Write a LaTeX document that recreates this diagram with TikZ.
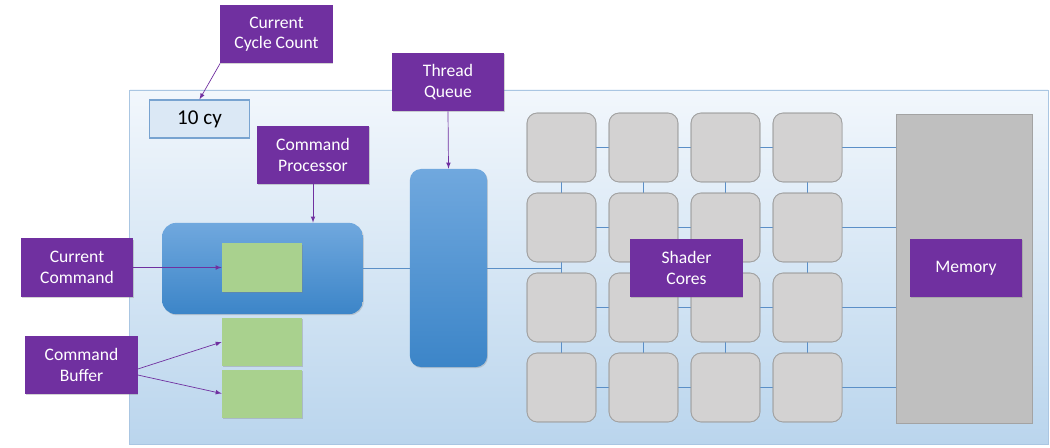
\documentclass[tikz,border=0pt]{standalone}
\usepackage{fontspec}
\setmainfont{Carlito}
\usepackage{tikz}
\usetikzlibrary{positioning, arrows, shadows}
\usepackage{xcolor}

\definecolor{labelpurple}{HTML}{7030A0}
\definecolor{wirecol}{HTML}{5B8FC7}
\definecolor{greenbox}{HTML}{A9D18E}
\definecolor{corefill}{HTML}{D3D2D2}
\definecolor{coreline}{HTML}{A3A3A3}
\definecolor{memfill}{HTML}{BFBFBF}

\begin{document}
\begin{tikzpicture}[x=0.025cm, y=-0.025cm, >=latex,
    label/.style={fill=labelpurple, text=white, minimum width=2.8cm, minimum height=1.45cm,
        inner sep=0pt, align=center, font=\fontsize{12.5}{14.5}\selectfont,
        drop shadow={opacity=0.35, shadow xshift=0.6pt, shadow yshift=-0.8pt}},
    bluebox/.style={rounded corners=0.35cm, draw=none,
        top color={rgb,255:red,112;green,168;blue,222}, bottom color={rgb,255:red,60;green,133;blue,200},
        drop shadow={opacity=0.3, shadow xshift=0.6pt, shadow yshift=-0.8pt}},
    cmdbox/.style={fill=greenbox, minimum width=2cm, minimum height=1.2cm, inner sep=0pt,
        drop shadow={opacity=0.35, shadow xshift=0.6pt, shadow yshift=-0.8pt}},
    core/.style={fill=corefill, draw=coreline, line width=0.6pt, rounded corners=0.25cm,
        minimum width=1.72cm, minimum height=1.72cm, inner sep=0pt},
    wire/.style={draw=wirecol, line width=0.6pt},
    pointer/.style={->, draw=labelpurple, line width=0.5pt}]

    \useasboundingbox (0,0) rectangle (1050,447);

    % gpu panel
    \node[draw={rgb,255:red,170;green,198;blue,226}, line width=0.6pt,
          top color={rgb,255:red,242;green,247;blue,252}, bottom color={rgb,255:red,186;green,213;blue,237},
          minimum width=22.95cm, minimum height=8.85cm, inner sep=0pt] (gpu) at (589,267) {};

    % cycle counter
    \node[fill={rgb,255:red,219;green,232;blue,245}, draw={rgb,255:red,120;green,163;blue,208}, line width=0.8pt,
          minimum width=2.5cm, minimum height=0.95cm, inner sep=0pt, font=\fontsize{15}{18}\selectfont,
          drop shadow={opacity=0.3, shadow xshift=0.6pt, shadow yshift=-0.8pt}] (cy) at (199.5,119) {10 cy};

    % command processor and buffer
    \node[bluebox, minimum width=5.02cm, minimum height=2.28cm] (cmdproc) at (262.5,268.5) {};
    \node[cmdbox] (cur) at (262,267.5) {};
    \node[cmdbox] (buf1) at (262,342) {};
    \node[cmdbox] (buf2) at (262,393.5) {};

    % thread queue
    \node[bluebox, rounded corners=0.28cm, minimum width=1.93cm, minimum height=4.95cm] (queue) at (448.5,268) {};

    % shader cores
    \foreach \r in {1,...,4}
        \foreach \c in {1,...,4}
            \node[core] (c\r\c) at ({561.5+82*(\c-1)},{147.5+80*(\r-1)}) {};

    % memory
    \node[fill=memfill, draw=coreline, line width=0.6pt, minimum width=3.38cm, minimum height=7.72cm,
          inner sep=0pt, drop shadow={opacity=0.3, shadow xshift=0.6pt, shadow yshift=-0.8pt}] (mem) at (964.5,268.5) {};

    \coordinate (qjoin) at (561.5,268);

    % wires
    \path[wire] (cmdproc.east |- queue.west) -- (queue.west);
    \path[wire] (queue.east) -- (qjoin);
    \foreach \r in {1,...,4} {
        \path[wire] (c\r1) -- (c\r2) -- (c\r3) -- (c\r4);
        \path[wire] (c\r4.east) -- (c\r4.east -| mem.west);
    }
    \foreach \c in {1,...,4}
        \path[wire] (c1\c) -- (c2\c) -- (c3\c) -- (c4\c);
    \foreach \r in {1,...,4}
        \foreach \c in {1,...,4}
            \node[core] at (c\r\c) {};

    % labels
    \node[label] (lblcycle) at (276.5,34) {Current\\Cycle Count};
    \node[label] (lblproc) at (313,155) {Command\\Processor};
    \node[label] (lblqueue) at (448,82) {Thread\\Queue};
    \node[label] (lblcur) at (77,267.5) {Current\\Command};
    \node[label] (lblbuf) at (81.5,365) {Command\\Buffer};
    \node[label] (lblshader) at (686.5,268) {Shader\\Cores};
    \node[label] (lblmem) at (966,268) {Memory};

    \draw[pointer] (lblcycle.south west) -- (cy.north);
    \draw[pointer] (lblproc.south) -- (cmdproc.north -| lblproc.south);
    \draw[pointer] (lblqueue.south) -- (queue.north);
    \draw[pointer] (lblcur.east) -- (cur.west);
    \draw[pointer] ([yshift=-0.1cm]lblbuf.east) -- (buf1.west);
    \draw[pointer] ([yshift=-0.25cm]lblbuf.east) -- (buf2.west);
\end{tikzpicture}
\end{document}
